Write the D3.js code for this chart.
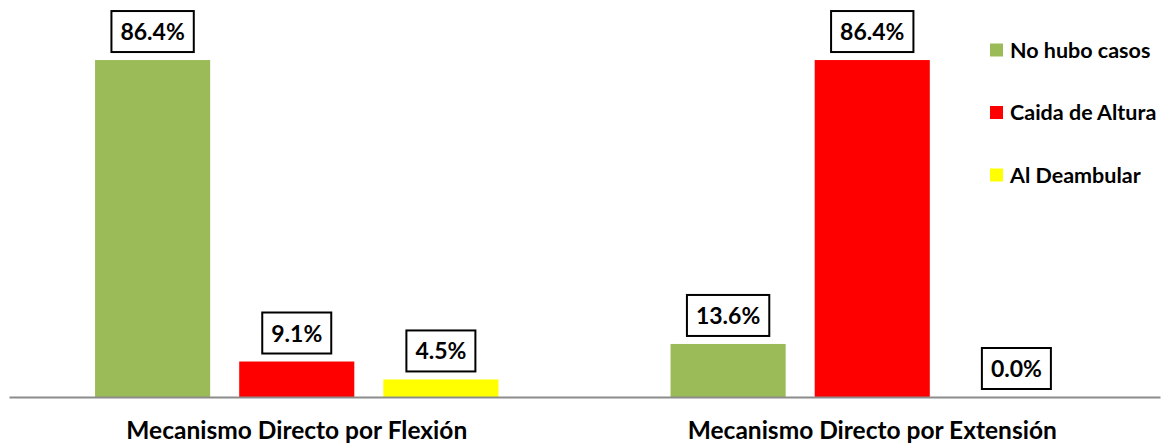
<!DOCTYPE html>
<html>
<head>
<meta charset="utf-8">
<script src="https://cdn.jsdelivr.net/npm/d3@7"></script>
<style>
  html, body { margin: 0; padding: 0; background: #fff; }
  svg { display: block; font-family: Lato, "Open Sans", sans-serif; font-weight: bold; }
</style>
</head>
<body>
<svg id="chart" width="1171" height="446"></svg>
<script>
// Mechanisms (x categories) and injury-cause series, in percent
const categories = ["Mecanismo Directo por Flexión", "Mecanismo Directo por Extensión"];
const seriesNames = ["No hubo casos", "Caida de Altura", "Al Deambular"];
const noHuboCasos = [86.4, 13.6];
const caidaDeAltura = [9.1, 86.4];
const alDeambular = [4.5, 0.0];
const seriesColors = ["#9BBB59", "#FF0000", "#FFFF00"];

const seriesValues = [noHuboCasos, caidaDeAltura, alDeambular];

const svg = d3.select("#chart");

const x0 = d3.scaleBand().domain(categories).range([9, 1160]).paddingInner(0).paddingOuter(0);
const x1 = d3.scaleBand().domain(seriesNames).range([0, x0.bandwidth()])
  .paddingInner(0.2014).paddingOuter(0.597);
const y = d3.scaleLinear().domain([0, 100]).range([397, 7]);
const color = d3.scaleOrdinal().domain(seriesNames).range(seriesColors);

const rows = [];
categories.forEach((c, ci) => {
  seriesNames.forEach((s, si) => rows.push({ cat: c, series: s, value: seriesValues[si][ci] }));
});

// bars
svg.append("g").selectAll("rect").data(rows).join("rect")
  .attr("x", d => x0(d.cat) + x1(d.series))
  .attr("y", d => y(d.value))
  .attr("width", x1.bandwidth())
  .attr("height", d => y(0) - y(d.value))
  .attr("fill", d => color(d.series));

// baseline axis
const axis = svg.append("g").attr("transform", `translate(0,${y(0)})`)
  .call(d3.axisBottom(x0).tickSize(0).tickPadding(25));
axis.select(".domain").attr("stroke", "#8c8c8c").attr("stroke-width", 2);
axis.selectAll(".tick text")
  .attr("font-family", "Lato, 'Open Sans', sans-serif")
  .attr("font-weight", "bold")
  .attr("font-size", 24.5)
  .attr("fill", "#000");

// boxed value labels
const labels = svg.append("g").selectAll("g").data(rows).join("g")
  .attr("transform", d => `translate(${x0(d.cat) + x1(d.series) + x1.bandwidth() / 2},${y(d.value) - 8})`);
labels.append("text")
  .attr("text-anchor", "middle")
  .attr("y", -12)
  .attr("font-size", 23)
  .attr("fill", "#000")
  .text(d => d.value.toFixed(1) + "%");
labels.each(function () {
  const g = d3.select(this);
  const w = g.select("text").node().getComputedTextLength() + 18;
  g.insert("rect", "text")
    .attr("x", -w / 2).attr("y", -41)
    .attr("width", w).attr("height", 41)
    .attr("fill", "#fff").attr("stroke", "#000").attr("stroke-width", 2);
});

// legend
const legend = svg.append("g").selectAll("g").data(seriesNames).join("g")
  .attr("transform", (d, i) => `translate(990,${50 + i * 62.5})`);
legend.append("rect")
  .attr("x", 0).attr("y", -6.5).attr("width", 13).attr("height", 13)
  .attr("fill", d => color(d));
legend.append("text")
  .attr("x", 20).attr("dy", "0.35em")
  .attr("font-size", 21.5)
  .attr("fill", "#000")
  .text(d => d);
</script>
</body>
</html>
